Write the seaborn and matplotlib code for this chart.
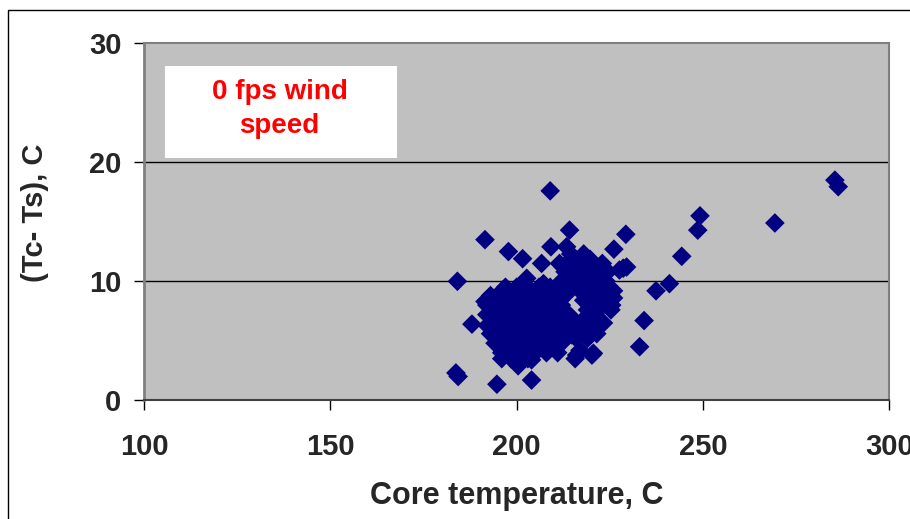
import matplotlib
matplotlib.use("Agg")
import matplotlib.pyplot as plt
import matplotlib.patches as mpatches
import numpy as np
import pandas as pd
import seaborn as sns

sns.set_style("ticks")
plt.rcParams['font.family'] = ['Liberation Sans', 'DejaVu Sans']
plt.rcParams['font.weight'] = 'bold'

# core temperature (C), isolated points
core_outer = [183.7, 184.3, 184.1, 188.0, 191.5, 192.4, 194.7, 196.0, 197.8, 200.4,
              201.6, 204.0, 209.0, 214.2, 229.3, 226.1, 228.6, 227.6, 233.0, 234.2,
              237.4, 241.0, 244.3, 248.6, 249.2, 269.3, 285.4, 286.3, 226.0, 225.3,
              223.3, 221.5, 220.6, 215.7, 217.0, 206.7, 209.2, 213.4, 219.7, 222.4,
              212.5, 214.8, 202.7, 207.2, 196.4, 192.0, 216.1, 220.2, 222.0, 225.5,
              214.8, 197.8, 204.0, 208.5, 213.0, 191.5, 192.4, 194.2, 222.8, 229.5]
dt_outer = [2.3, 2.0, 10.0, 6.4, 13.5, 8.4, 1.35, 3.5, 12.5, 2.9,
            11.9, 1.7, 17.6, 14.3, 13.95, 12.7, 11.1, 10.95, 4.5, 6.7,
            9.2, 9.8, 12.1, 14.3, 15.5, 14.9, 18.5, 17.95, 8.6, 7.6,
            6.5, 5.6, 3.95, 3.5, 4.2, 11.5, 12.9, 12.9, 11.85, 10.95,
            11.2, 11.9, 10.25, 9.8, 9.3, 8.4, 3.8, 3.8, 6.3, 8.0,
            5.5, 3.95, 3.4, 4.2, 5.2, 8.3, 6.2, 4.8, 10.8, 11.2]

# dense cluster, lower-left lobe
core_lobe_a = [197, 200, 203, 206, 209, 212,
               193, 195.5, 198, 201, 204, 207, 210, 213,
               192, 194.5, 197, 200, 203, 206, 209, 212,
               192, 194, 196.5, 199, 202, 205, 208, 211, 214,
               192.5, 195, 197.5, 200, 203, 206, 209, 212,
               193, 195.5, 198, 201, 204, 207, 210, 213,
               194.5, 197, 200, 203, 206, 209, 212,
               196, 199, 202, 205, 208, 211,
               198.5, 203]
dt_lobe_a = [9.5, 9.5, 9.5, 9.5, 9.5, 9.5,
             8.8, 8.8, 8.8, 8.8, 8.8, 8.8, 8.8, 8.8,
             8.0, 8.0, 8.0, 8.0, 8.0, 8.0, 8.0, 8.0,
             7.2, 7.2, 7.2, 7.2, 7.2, 7.2, 7.2, 7.2, 7.2,
             6.4, 6.4, 6.4, 6.4, 6.4, 6.4, 6.4, 6.4,
             5.6, 5.6, 5.6, 5.6, 5.6, 5.6, 5.6, 5.6,
             4.8, 4.8, 4.8, 4.8, 4.8, 4.8, 4.8,
             4.0, 4.0, 4.0, 4.0, 4.0, 4.0,
             3.5, 3.5]

# dense cluster, upper-right lobe
core_lobe_b = [214.5, 218,
               211.5, 214, 217, 220, 223,
               213, 216, 219, 222, 224.5,
               212, 215, 218, 221, 224,
               214, 217, 220, 223, 226,
               218, 221, 224,
               219, 222,
               215, 218, 221,
               214, 217, 220,
               216, 219]
dt_lobe_b = [12.3, 12.3,
             11.5, 11.5, 11.5, 11.5, 11.5,
             10.8, 10.8, 10.8, 10.8, 10.8,
             10.0, 10.0, 10.0, 10.0, 10.0,
             9.2, 9.2, 9.2, 9.2, 9.2,
             8.4, 8.4, 8.4,
             7.6, 7.6,
             6.8, 6.8, 6.8,
             6.0, 6.0, 6.0,
             5.2, 5.2]

x_ticks = [100, 150, 200, 250, 300]
y_ticks = [0, 10, 20, 30]

df = pd.DataFrame({
    "core": core_outer + core_lobe_a + core_lobe_b,
    "dt": dt_outer + dt_lobe_a + dt_lobe_b,
})

fig = plt.figure(figsize=(9.1, 5.19), dpi=100)
ax = fig.add_axes([144 / 910, 1 - 400.3 / 519, 745.3 / 910, 357 / 519])
ax.set_facecolor('#C0C0C0')

for yv in [10, 20]:
    ax.axhline(yv, color='black', lw=1, zorder=1)

sns.scatterplot(data=df, x="core", y="dt", marker='D', s=100, color='#000080',
                edgecolor='none', linewidth=0, ax=ax, zorder=3, legend=False)

ax.set_xlim(100, 300)
ax.set_ylim(0, 30)
ax.set_xticks(x_ticks)
ax.set_yticks(y_ticks)
ax.tick_params(axis='both', direction='out', length=7.2, width=1, color='black',
               labelsize=21)
ax.tick_params(axis='x', pad=16)
ax.tick_params(axis='y', pad=9)
for lab in ax.get_xticklabels() + ax.get_yticklabels():
    lab.set_fontweight('bold')

for side in ['top', 'right']:
    ax.spines[side].set_color('#808080')
    ax.spines[side].set_linewidth(1.5)
ax.spines['left'].set_color('#808080')
ax.spines['left'].set_linewidth(2)
ax.spines['bottom'].set_color('#404040')
ax.spines['bottom'].set_linewidth(1.5)

ax.set_xlabel("Core temperature, C", fontsize=22, fontweight='bold', va='center')
ax.xaxis.set_label_coords(0.5, -0.268)
ax.set_ylabel("(Tc- Ts), C", fontsize=21, fontweight='bold', va='center', ha='center')
ax.yaxis.set_label_coords(-0.146, 0.525)

# white note box
ax.add_patch(mpatches.Rectangle((0.0282, 0.6787), 0.3113, 0.2577, transform=ax.transAxes,
                                facecolor='white', edgecolor='none', zorder=4))
ax.text(0.1818, 0.8168, "0 fps wind\nspeed", transform=ax.transAxes, ha='center',
        va='center', color='red', fontsize=20, fontweight='bold', linespacing=1.4,
        zorder=5)

# outer chart border
fig.patches.append(mpatches.Rectangle((8 / 910, -0.1), 1.2, 1 - 10 / 519 + 0.1,
                                      transform=fig.transFigure, fill=False,
                                      edgecolor='black', lw=1))

fig.savefig("out.png", dpi=100)
